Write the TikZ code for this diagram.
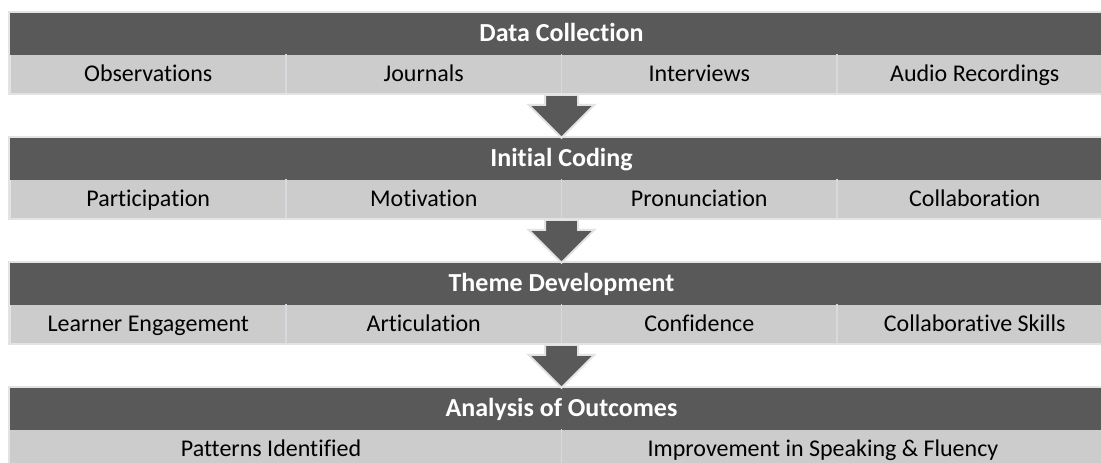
\documentclass[tikz,border=0pt]{standalone}
\usepackage{fontspec}
\setmainfont{Carlito}[Ligatures=NoCommon]
\usetikzlibrary{calc}
\definecolor{darkband}{HTML}{595959}
\definecolor{lightcell}{HTML}{CCCCCC}
\definecolor{framegray}{HTML}{E3E3E3}
\definecolor{sepgray}{HTML}{D6D9DE}
\tikzset{
  frame/.style={fill=framegray, draw=none},
  titlebar/.style={fill=darkband, draw=none, minimum width=1103pt, minimum height=41.5pt, inner sep=0pt,
    text height=20pt, text depth=4pt,
    text=white, font=\fontsize{26}{30}\selectfont\bfseries},
  cellbox/.style={fill=lightcell, draw=none, minimum width=275.5pt, minimum height=38pt, inner sep=0pt,
    text height=20pt, text depth=3.6pt,
    text=black, font=\fontsize{24}{28}\selectfont},
  widecell/.style={cellbox, minimum width=551.5pt},
  celltext/.style={inner sep=0pt, text height=20pt, text depth=3.6pt, text=black, font=\fontsize{24}{28}\selectfont},
  sepline/.style={draw=sepgray, line width=1.5pt},
  blockarrow/.style={fill=darkband, draw=framegray, line width=2pt, line join=miter}
}
\begin{document}
\begin{tikzpicture}[x=1pt,y=-1pt]
\useasboundingbox (0,0) rectangle (1101,463);
% frames
\foreach \T in {13,138,263,388}{
  \fill[framegray] (8,\T-2.5) rectangle (1120,\T+82);
}
% Band 1
\node[titlebar] (t1) at (561.5,33.75) {Data Collection};
\node[cellbox] (c11) at (148.25,73.5) {Observations};
\node[cellbox] (c12) at (423.75,73.5) {Journals};
\node[cellbox] (c13) at (699.25,73.5) {Interviews};
\node[cellbox] (c14) at (974.75,73.5) {Audio Recordings};
% Band 2
\node[titlebar] (t2) at (561.5,158.75) {Initial Coding};
\node[cellbox] (c21) at (148.25,198.5) {Participation};
\node[cellbox] (c22) at (423.75,198.5) {Motivation};
\node[cellbox] (c23) at (699.25,198.5) {Pronunciation};
\node[cellbox] (c24) at (974.75,198.5) {Collaboration};
% Band 3
\node[titlebar] (t3) at (561.5,283.75) {Theme Development};
\node[cellbox] (c31) at (148.25,323.5) {Learner Engagement};
\node[cellbox] (c32) at (423.75,323.5) {Articulation};
\node[cellbox] (c33) at (699.25,323.5) {Confidence};
\node[cellbox] (c34) at (974.75,323.5) {Collaborative Skills};
% Band 4
\node[titlebar] (t4) at (561.5,408.75) {Analysis of Outcomes};
\node[widecell] (c41) at (285.75,448.5) {};
\node[widecell] (c42) at (837.25,448.5) {};
\node[celltext] (p41) at (271,448.5) {Patterns Identified};
\node[celltext] (p42) at (823,448.5) {Improvement in Speaking \& Fluency};
% separators
\foreach \a/\b in {c11/c12,c12/c13,c13/c14,c21/c22,c22/c23,c23/c24,c31/c32,c32/c33,c33/c34,c41/c42}{
  \draw[sepline] (\a.north east) -- (\a.south east);
}
% block arrows
\foreach \up/\down in {c12/t2,c22/t3,c32/t4}{
  \draw[blockarrow]
    ($(\down.north)+(-16.5,-43)$) -- ($(\down.north)+(16.5,-43)$) --
    ($(\down.north)+(16.5,-33)$) -- ($(\down.north)+(33,-33)$) --
    (\down.north) --
    ($(\down.north)+(-33,-33)$) -- ($(\down.north)+(-16.5,-33)$) -- cycle;
}
\end{tikzpicture}
\end{document}
